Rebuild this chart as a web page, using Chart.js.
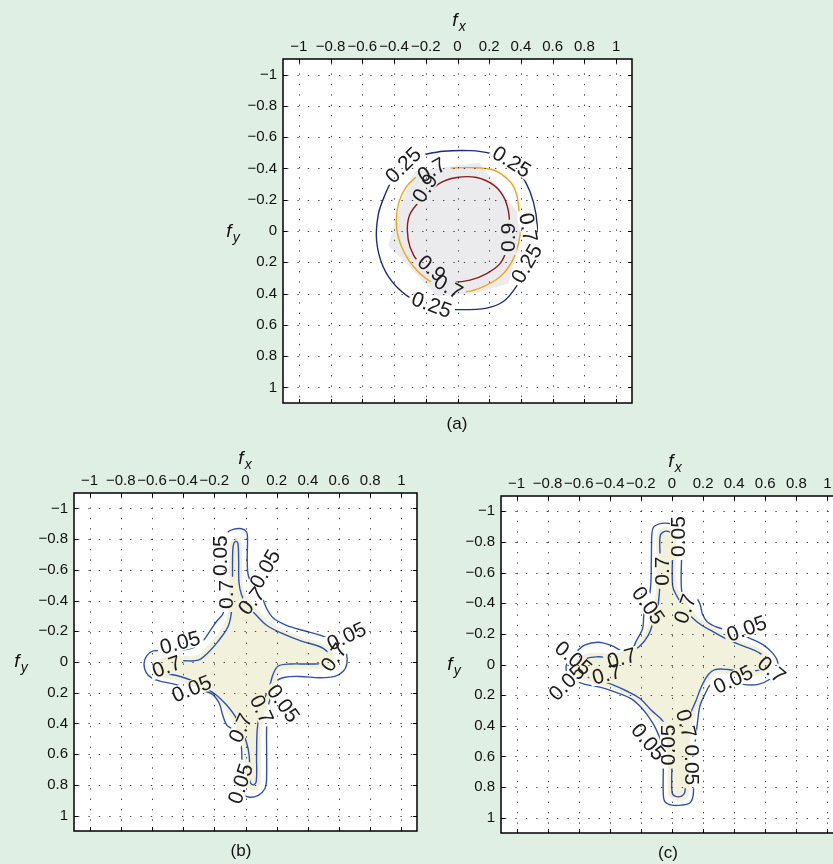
<!DOCTYPE html>
<html>
<head>
<meta charset="utf-8">
<title>Contour panels</title>
<script src="https://cdn.jsdelivr.net/npm/chart.js@4/dist/chart.umd.min.js"></script>
<style>
  html, body { margin: 0; padding: 0; width: 833px; height: 864px; overflow: hidden;
    background: #dfefe4; font-family: "Liberation Sans", Arial, Helvetica, sans-serif; }
  canvas { position: absolute; }
  .t { position: absolute; transform: translate(-50%, -50%); white-space: nowrap; color: #111; }
  .ax { font-size: 19px; font-style: italic; }
  .ax sub { font-size: 14px; vertical-align: -5px; margin-left: 1px; }
  .pn { font-size: 17px; }
</style>
</head>
<body>
<canvas id="panelA" width="409" height="397" style="left:233px;top:21px"></canvas>
<canvas id="panelB" width="403" height="391" style="left:24px;top:455px"></canvas>
<canvas id="panelC" width="402" height="390" style="left:451px;top:458px"></canvas>

<div class="t ax" style="left:459px;top:21px">f<sub>x</sub></div>
<div class="t ax" style="left:233px;top:232px">f<sub>y</sub></div>
<div class="t pn" style="left:457px;top:424px">(a)</div>

<div class="t ax" style="left:245px;top:459px">f<sub>x</sub></div>
<div class="t ax" style="left:21px;top:662px">f<sub>y</sub></div>
<div class="t pn" style="left:241px;top:851px">(b)</div>

<div class="t ax" style="left:675px;top:462px">f<sub>x</sub></div>
<div class="t ax" style="left:454px;top:665px">f<sub>y</sub></div>
<div class="t pn" style="left:668px;top:853px">(c)</div>

<script>
// ---- axis ticks (shared by all three panels) ----
const tickValues = [-1, -0.8, -0.6, -0.4, -0.2, 0, 0.2, 0.4, 0.6, 0.8, 1];
const tickLabels = ['\u22121', '\u22120.8', '\u22120.6', '\u22120.4', '\u22120.2', '0', '0.2', '0.4', '0.6', '0.8', '1'];

// ---- panel (a): levels 0.25 / 0.7 / 0.9 ----
const levelsA = [0.25, 0.7, 0.9];
const contourA025 = [[-0.236,-0.484],[-0.089,-0.510],[0.079,-0.514],[0.205,-0.497],[0.310,-0.453],[0.394,-0.369],[0.457,-0.253],[0.495,-0.106],[0.503,0.041],[0.482,0.146],[0.436,0.251],[0.363,0.367],[0.289,0.451],[0.184,0.493],[0.016,0.503],[-0.110,0.493],[-0.257,0.451],[-0.384,0.356],[-0.468,0.230],[-0.510,0.062],[-0.499,-0.106],[-0.457,-0.232],[-0.405,-0.337],[-0.331,-0.421]];
const contourA07 = [[-0.247,-0.358],[-0.089,-0.396],[0.079,-0.405],[0.226,-0.390],[0.331,-0.316],[0.373,-0.232],[0.390,-0.106],[0.398,-0.022],[0.384,0.083],[0.342,0.198],[0.268,0.293],[0.163,0.356],[0.058,0.388],[-0.047,0.377],[-0.152,0.335],[-0.257,0.251],[-0.342,0.125],[-0.384,-0.022],[-0.373,-0.169],[-0.321,-0.285]];
const contourA09 = [[-0.194,-0.222],[-0.121,-0.300],[-0.005,-0.342],[0.121,-0.342],[0.226,-0.295],[0.289,-0.222],[0.321,-0.127],[0.327,-0.022],[0.314,0.104],[0.268,0.209],[0.184,0.272],[0.079,0.314],[-0.047,0.325],[-0.152,0.283],[-0.247,0.199],[-0.299,0.104],[-0.316,-0.001],[-0.304,-0.096],[-0.257,-0.169]];
const regionA = [[-0.268,-0.384],[0.138,-0.436],[0.373,-0.127],[0.394,0.062],[0.321,0.335],[0.110,0.398],[-0.131,0.419],[-0.299,0.230],[-0.436,0.093],[-0.363,-0.169]];
const labelsA = [
  { level: 0.25, x: -0.342, y: -0.421, rot: -45 },
  { level: 0.25, x: 0.342, y: -0.443, rot: 32 },
  { level: 0.7, x: -0.163, y: -0.390, rot: -30 },
  { level: 0.9, x: -0.205, y: -0.274, rot: -58 },
  { level: 0.7, x: 0.446, y: -0.022, rot: 80 },
  { level: 0.9, x: 0.320, y: 0.041, rot: -90 },
  { level: 0.25, x: 0.436, y: 0.209, rot: -60 },
  { level: 0.9, x: -0.163, y: 0.240, rot: 40 },
  { level: 0.7, x: -0.058, y: 0.357, rot: 30 },
  { level: 0.25, x: -0.163, y: 0.472, rot: 20 }
];

// ---- panel (b): levels 0.05 / 0.7 ----
const levelsB = [0.05, 0.7];
const contourB005 = [[-0.126,-0.799],[-0.117,-0.841],[-0.079,-0.863],[-0.025,-0.867],[0.007,-0.846],[0.013,-0.799],[0.011,-0.670],[0.018,-0.563],[0.050,-0.489],[0.103,-0.425],[0.135,-0.350],[0.178,-0.286],[0.263,-0.239],[0.370,-0.205],[0.477,-0.175],[0.562,-0.141],[0.622,-0.104],[0.648,-0.051],[0.650,0.013],[0.627,0.060],[0.573,0.094],[0.477,0.103],[0.349,0.094],[0.253,0.099],[0.199,0.124],[0.173,0.184],[0.156,0.248],[0.139,0.312],[0.135,0.462],[0.135,0.761],[0.124,0.825],[0.082,0.868],[0.018,0.879],[-0.015,0.847],[-0.023,0.697],[-0.025,0.569],[-0.040,0.494],[-0.079,0.441],[-0.121,0.409],[-0.147,0.344],[-0.168,0.270],[-0.218,0.206],[-0.292,0.184],[-0.378,0.167],[-0.463,0.142],[-0.549,0.124],[-0.602,0.103],[-0.638,0.067],[-0.651,0.013],[-0.634,-0.040],[-0.591,-0.072],[-0.506,-0.072],[-0.410,-0.077],[-0.335,-0.094],[-0.275,-0.136],[-0.228,-0.201],[-0.185,-0.265],[-0.143,-0.318],[-0.130,-0.414],[-0.130,-0.585],[-0.128,-0.713]];
const contourB07 = [[-0.083,-0.500],[-0.083,-0.670],[-0.079,-0.756],[-0.064,-0.786],[-0.049,-0.773],[-0.044,-0.670],[-0.042,-0.521],[-0.025,-0.436],[0.018,-0.361],[0.071,-0.303],[0.135,-0.239],[0.242,-0.183],[0.359,-0.136],[0.466,-0.104],[0.524,-0.068],[0.537,-0.025],[0.503,0.007],[0.413,0.013],[0.285,0.013],[0.210,0.026],[0.178,0.077],[0.156,0.152],[0.118,0.248],[0.088,0.355],[0.075,0.441],[0.071,0.612],[0.069,0.778],[0.050,0.800],[0.030,0.782],[0.024,0.612],[0.007,0.526],[-0.025,0.441],[-0.068,0.351],[-0.121,0.280],[-0.186,0.216],[-0.260,0.167],[-0.346,0.120],[-0.442,0.088],[-0.517,0.073],[-0.553,0.052],[-0.549,0.024],[-0.506,-0.004],[-0.399,-0.008],[-0.303,-0.012],[-0.239,-0.062],[-0.175,-0.136],[-0.111,-0.233],[-0.087,-0.350]];
const regionB = [[-0.105,-0.50],[-0.105,-0.70],[-0.098,-0.78],[-0.066,-0.815],[-0.03,-0.795],[-0.022,-0.67],[-0.018,-0.53],[-0.002,-0.45],[0.04,-0.38],[0.09,-0.325],[0.15,-0.265],[0.25,-0.21],[0.36,-0.165],[0.47,-0.13],[0.545,-0.09],[0.565,-0.03],[0.53,0.035],[0.42,0.045],[0.29,0.045],[0.23,0.055],[0.205,0.10],[0.185,0.165],[0.148,0.26],[0.115,0.36],[0.103,0.445],[0.1,0.61],[0.098,0.79],[0.07,0.83],[0.035,0.83],[0.0,0.80],[-0.005,0.62],[-0.015,0.54],[-0.05,0.455],[-0.09,0.37],[-0.14,0.30],[-0.2,0.24],[-0.27,0.19],[-0.35,0.15],[-0.45,0.115],[-0.53,0.10],[-0.58,0.065],[-0.58,0.02],[-0.53,-0.03],[-0.40,-0.038],[-0.31,-0.045],[-0.26,-0.09],[-0.195,-0.16],[-0.135,-0.25],[-0.11,-0.36]];
const labelsB = [
  { level: 0.05, x: -0.164, y: -0.692, rot: -90 },
  { level: 0.7, x: -0.125, y: -0.440, rot: -90 },
  { level: 0.05, x: 0.125, y: -0.606, rot: -60 },
  { level: 0.7, x: 0.039, y: -0.397, rot: -50 },
  { level: 0.05, x: 0.648, y: -0.168, rot: -25 },
  { level: 0.7, x: 0.567, y: -0.030, rot: -55 },
  { level: 0.05, x: 0.242, y: 0.270, rot: 55 },
  { level: 0.7, x: 0.103, y: 0.308, rot: 65 },
  { level: 0.7, x: -0.032, y: 0.430, rot: -65 },
  { level: 0.05, x: -0.032, y: 0.793, rot: -72 },
  { level: 0.05, x: -0.346, y: 0.174, rot: -22 },
  { level: 0.05, x: -0.420, y: -0.126, rot: -15 },
  { level: 0.7, x: -0.506, y: 0.030, rot: -20 }
];

// ---- panel (c): levels 0.05 / 0.7 ----
const levelsC = [0.05, 0.7];
const contourC005 = [[-0.131,-0.835],[-0.120,-0.895],[-0.066,-0.921],[-0.002,-0.916],[0.047,-0.878],[0.062,-0.792],[0.062,-0.481],[0.094,-0.466],[0.148,-0.445],[0.180,-0.395],[0.195,-0.331],[0.227,-0.278],[0.292,-0.243],[0.394,-0.213],[0.502,-0.170],[0.587,-0.128],[0.647,-0.074],[0.680,-0.016],[0.669,0.048],[0.626,0.098],[0.555,0.130],[0.459,0.130],[0.352,0.104],[0.277,0.104],[0.240,0.140],[0.212,0.194],[0.180,0.269],[0.163,0.387],[0.148,0.516],[0.137,0.708],[0.137,0.848],[0.116,0.902],[0.062,0.918],[-0.002,0.918],[-0.045,0.897],[-0.056,0.848],[-0.056,0.644],[-0.060,0.537],[-0.099,0.430],[-0.141,0.355],[-0.195,0.284],[-0.259,0.226],[-0.356,0.183],[-0.452,0.151],[-0.559,0.130],[-0.635,0.098],[-0.673,0.055],[-0.682,0.012],[-0.660,-0.035],[-0.613,-0.085],[-0.559,-0.128],[-0.474,-0.145],[-0.388,-0.123],[-0.313,-0.085],[-0.259,-0.095],[-0.232,-0.149],[-0.189,-0.235],[-0.180,-0.331],[-0.152,-0.417],[-0.137,-0.513],[-0.133,-0.685]];
const contourC07 = [[-0.077,-0.706],[-0.077,-0.835],[-0.060,-0.863],[-0.024,-0.869],[0.000,-0.846],[0.004,-0.771],[0.004,-0.513],[0.030,-0.449],[0.077,-0.374],[0.126,-0.310],[0.191,-0.256],[0.266,-0.213],[0.362,-0.160],[0.469,-0.117],[0.555,-0.080],[0.605,-0.038],[0.598,0.012],[0.544,0.040],[0.459,0.048],[0.362,0.033],[0.277,0.033],[0.234,0.065],[0.191,0.140],[0.154,0.237],[0.111,0.344],[0.094,0.473],[0.084,0.623],[0.084,0.826],[0.062,0.859],[0.019,0.859],[0.000,0.833],[-0.002,0.623],[-0.024,0.430],[-0.066,0.361],[-0.131,0.301],[-0.206,0.222],[-0.292,0.173],[-0.388,0.130],[-0.484,0.098],[-0.559,0.076],[-0.596,0.040],[-0.592,-0.008],[-0.553,-0.038],[-0.484,-0.050],[-0.377,-0.046],[-0.292,-0.063],[-0.210,-0.117],[-0.152,-0.192],[-0.120,-0.278],[-0.094,-0.363],[-0.081,-0.471],[-0.077,-0.599]];
const regionC = [[-0.10,-0.70],[-0.10,-0.84],[-0.075,-0.885],[-0.025,-0.895],[0.018,-0.865],[0.028,-0.77],[0.03,-0.52],[0.055,-0.465],[0.10,-0.395],[0.145,-0.335],[0.205,-0.28],[0.28,-0.24],[0.375,-0.185],[0.48,-0.14],[0.575,-0.10],[0.63,-0.045],[0.625,0.025],[0.555,0.07],[0.46,0.075],[0.36,0.06],[0.285,0.06],[0.255,0.085],[0.215,0.155],[0.18,0.25],[0.137,0.355],[0.12,0.475],[0.11,0.625],[0.11,0.835],[0.08,0.885],[0.01,0.885],[-0.025,0.845],[-0.027,0.625],[-0.045,0.445],[-0.085,0.38],[-0.15,0.32],[-0.22,0.245],[-0.305,0.197],[-0.395,0.155],[-0.49,0.123],[-0.575,0.10],[-0.622,0.05],[-0.617,-0.02],[-0.565,-0.065],[-0.484,-0.077],[-0.377,-0.072],[-0.30,-0.09],[-0.228,-0.14],[-0.175,-0.20],[-0.143,-0.285],[-0.117,-0.37],[-0.105,-0.475],[-0.10,-0.60]];
const labelsC = [
  { level: 0.05, x: 0.041, y: -0.835, rot: -90 },
  { level: 0.7, x: -0.066, y: -0.610, rot: -90 },
  { level: 0.05, x: -0.152, y: -0.385, rot: 55 },
  { level: 0.7, x: 0.084, y: -0.363, rot: -70 },
  { level: 0.05, x: 0.480, y: -0.235, rot: -20 },
  { level: 0.7, x: 0.641, y: 0.033, rot: 40 },
  { level: 0.05, x: 0.394, y: 0.098, rot: -25 },
  { level: 0.7, x: 0.090, y: 0.387, rot: 75 },
  { level: 0.05, x: 0.126, y: 0.655, rot: 90 },
  { level: 0.05, x: -0.152, y: 0.505, rot: 50 },
  { level: 0.05, x: -0.024, y: 0.526, rot: -90 },
  { level: 0.05, x: -0.677, y: 0.119, rot: -45 },
  { level: 0.05, x: -0.635, y: -0.042, rot: 40 },
  { level: 0.7, x: -0.420, y: 0.065, rot: -15 },
  { level: 0.7, x: -0.324, y: -0.042, rot: -15 }
];

// ---- drawing helpers ----
const FONT = '"Liberation Sans", Arial, Helvetica, sans-serif';
const LABEL_SIZE = 21;
Chart.defaults.font.family = FONT;
Chart.defaults.color = '#111';

const asPoints = arr => arr.concat([arr[0]]).map(([x, y]) => ({ x, y }));

// rotated box around a contour label, in canvas pixels
function labelBox(ctx, xs, ys, l) {
  const txt = String(l.level);
  const w = ctx.measureText(txt).width + 6;
  const h = LABEL_SIZE * 0.8;
  const px = xs.getPixelForValue(l.x), py = ys.getPixelForValue(l.y);
  const r = l.rot * Math.PI / 180, c = Math.cos(r), s = Math.sin(r);
  return [[-w / 2, -h / 2], [w / 2, -h / 2], [w / 2, h / 2], [-w / 2, h / 2]]
    .map(([u, v]) => [px + u * c - v * s, py + u * s + v * c]);
}

function panelPlugin(labels) {
  return {
    id: 'contourPanel',
    beforeDatasetsDraw(chart) {
      const { ctx, chartArea: a } = chart;
      ctx.save();
      ctx.fillStyle = '#ffffff';
      ctx.fillRect(a.left, a.top, a.width, a.height);
      ctx.restore();
    },
    // contour lines are interrupted where their level labels sit
    beforeDatasetDraw(chart, args) {
      const ds = chart.data.datasets[args.index];
      if (!ds.isContour) return;
      const { ctx, chartArea: a, scales: { x: xs, y: ys } } = chart;
      ctx.save();
      ctx.font = LABEL_SIZE + 'px ' + FONT;
      labels.forEach(l => {
        const box = labelBox(ctx, xs, ys, l);
        ctx.beginPath();
        ctx.rect(a.left - 2, a.top - 2, a.width + 4, a.height + 4);
        ctx.moveTo(box[0][0], box[0][1]);
        for (let i = 1; i < 4; i++) ctx.lineTo(box[i][0], box[i][1]);
        ctx.closePath();
        ctx.clip('evenodd');
      });
    },
    afterDatasetDraw(chart, args) {
      const ds = chart.data.datasets[args.index];
      if (ds.isContour) chart.ctx.restore();
    },
    afterDatasetsDraw(chart) {
      const { ctx, chartArea: a, scales: { x: xs, y: ys } } = chart;
      ctx.save();
      // dotted grid
      ctx.strokeStyle = 'rgba(30,30,30,0.8)';
      ctx.lineWidth = 1;
      ctx.setLineDash([1.4, 9]);
      tickValues.forEach(v => {
        const px = Math.round(xs.getPixelForValue(v)) + 0.5;
        ctx.beginPath(); ctx.moveTo(px, a.top + 4); ctx.lineTo(px, a.bottom); ctx.stroke();
        const py = Math.round(ys.getPixelForValue(v)) + 0.5;
        ctx.beginPath(); ctx.moveTo(a.left + 4, py); ctx.lineTo(a.right, py); ctx.stroke();
      });
      ctx.setLineDash([]);
      // inward tick marks on all four sides
      ctx.strokeStyle = '#000';
      ctx.lineWidth = 1;
      const tl = 4;
      tickValues.forEach(v => {
        const px = Math.round(xs.getPixelForValue(v)) + 0.5;
        const py = Math.round(ys.getPixelForValue(v)) + 0.5;
        ctx.beginPath();
        ctx.moveTo(px, a.top); ctx.lineTo(px, a.top + tl);
        ctx.moveTo(px, a.bottom); ctx.lineTo(px, a.bottom - tl);
        ctx.moveTo(a.left, py); ctx.lineTo(a.left + tl, py);
        ctx.moveTo(a.right, py); ctx.lineTo(a.right - tl, py);
        ctx.stroke();
      });
      // axes box
      ctx.lineWidth = 1.5;
      ctx.strokeRect(a.left, a.top, a.width, a.height);
      // contour level labels
      ctx.fillStyle = '#1c1c1c';
      ctx.font = LABEL_SIZE + 'px ' + FONT;
      ctx.textAlign = 'center';
      ctx.textBaseline = 'middle';
      labels.forEach(l => {
        ctx.save();
        ctx.translate(xs.getPixelForValue(l.x), ys.getPixelForValue(l.y));
        ctx.rotate(l.rot * Math.PI / 180);
        ctx.fillText(String(l.level), 0, 1);
        ctx.restore();
      });
      ctx.restore();
    }
  };
}

function axisOptions(isX) {
  return {
    type: 'linear',
    position: isX ? 'top' : 'left',
    min: -1.1,
    max: 1.1,
    reverse: !isX,
    afterBuildTicks: s => { s.ticks = tickValues.map(v => ({ value: v })); },
    afterFit: s => { if (isX) s.height = 28; else s.width = 40; },
    ticks: {
      autoSkip: false, maxRotation: 0, minRotation: 0,
      padding: isX ? 3 : 6,
      color: '#111',
      font: { size: 15 },
      callback: (v, i) => tickLabels[i]
    },
    grid: { display: false, drawTicks: false },
    border: { display: false }
  };
}

function drawPanel(id, regions, contours, labels) {
  const datasets = [];
  regions.forEach(r => datasets.push({
    data: asPoints(r.points), showLine: true, fill: 'shape',
    backgroundColor: r.color, borderWidth: 0, pointRadius: 0,
    tension: r.tension, order: 10
  }));
  contours.forEach(c => datasets.push({
    label: String(c.level), level: c.level, isContour: true,
    data: asPoints(c.points), showLine: true, fill: false,
    borderColor: c.color, borderWidth: 1.4, pointRadius: 0,
    tension: 0.35, order: 1
  }));
  new Chart(document.getElementById(id), {
    type: 'scatter',
    data: { datasets },
    options: {
      responsive: false, animation: false, devicePixelRatio: 1,
      layout: { padding: 10 },
      plugins: { legend: { display: false }, tooltip: { enabled: false } },
      scales: { x: axisOptions(true), y: axisOptions(false) }
    },
    plugins: [panelPlugin(labels)]
  });
}

drawPanel('panelA',
  [{ points: regionA, color: '#ebebee', tension: 0 }],
  [
    { level: levelsA[0], points: contourA025, color: '#1f2a7e' },
    { level: levelsA[1], points: contourA07, color: '#f3a41b' },
    { level: levelsA[2], points: contourA09, color: '#8b1c1c' }
  ],
  labelsA);

drawPanel('panelB',
  [{ points: regionB, color: '#f2f2dc', tension: 0.35 }],
  [
    { level: levelsB[0], points: contourB005, color: '#3250ad' },
    { level: levelsB[1], points: contourB07, color: '#3250ad' }
  ],
  labelsB);

drawPanel('panelC',
  [{ points: regionC, color: '#f2f2dc', tension: 0.35 }],
  [
    { level: levelsC[0], points: contourC005, color: '#3250ad' },
    { level: levelsC[1], points: contourC07, color: '#3250ad' }
  ],
  labelsC);
</script>
</body>
</html>
